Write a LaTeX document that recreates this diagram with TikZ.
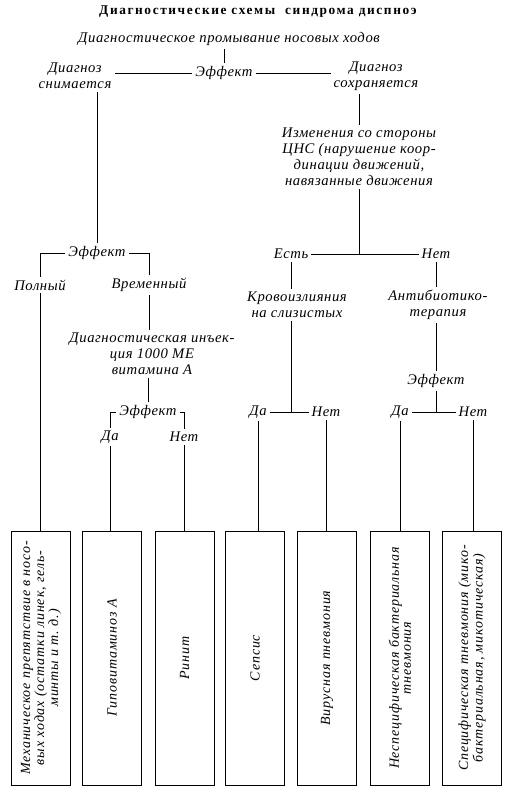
\documentclass[tikz,border=0pt]{standalone}
\usepackage{fontspec}
\usepackage{graphicx}
\setmainfont{Liberation Serif}
\newfontfamily\labelfont[LetterSpace=4]{Liberation Serif}
\newfontfamily\boxfont[LetterSpace=6]{Liberation Serif}
\newfontfamily\titlefont[LetterSpace=12]{Liberation Serif}
\usetikzlibrary{positioning}
\newcommand{\vlabel}[1]{\rotatebox{90}{\parbox{182pt}{\centering #1}}}

\begin{document}
\begin{tikzpicture}[
  x=0.75pt, y=-0.75pt,
  line width=0.7pt,
  lbl/.style={font=\labelfont\itshape\fontsize{11}{12}\selectfont, align=center, inner sep=2pt},
  outcome/.style={draw, minimum width=44.25pt, minimum height=190.5pt, inner sep=0pt,
    font=\boxfont\itshape\fontsize{10.5}{9}\selectfont}
]
\useasboundingbox (0,0) rectangle (519,794);

% top of the scheme
\node[font=\titlefont\bfseries\fontsize{10}{12}\selectfont] (title) at (258,12) {Диагностические схемы \ синдрома диспноэ};
\node[lbl] (wash) at (229,39) {Диагностическое промывание носовых ходов};
\node[lbl] (eff1) at (224,73) {Эффект};
\node[lbl] (removed) at (75,76) {Диагноз\\снимается};
\node[lbl] (kept) at (376,76) {Диагноз\\сохраняется};
\node[lbl] (cns) at (359,157) {Изменения со стороны\\ЦНС (нарушение коор-\\динации движений,\\навязанные движения};

% left branch
\node[lbl] (effL) at (97,253) {Эффект};
\node[lbl] (full) at (40,285) {Полный};
\node[lbl] (temp) at (149,285) {Временный};
\node[lbl] (inj) at (152,354) {Диагностическая инъек-\\ция 1000 МЕ\\витамина А};
\node[lbl] (eff2) at (148,412) {Эффект};
\node[lbl] (yes4) at (110,437) {Да};
\node[lbl] (no4) at (184,437) {Нет};

% right branch
\node[lbl] (yes1) at (291,254) {Есть};
\node[lbl] (no1) at (436,254) {Нет};
\node[lbl] (bleed) at (297,305) {Кровоизлияния\\на слизистых};
\node[lbl] (abx) at (438,305) {Антибиотико-\\терапия};
\node[lbl] (yes2) at (258,412) {Да};
\node[lbl] (no2) at (326,412) {Нет};
\node[lbl] (eff3) at (436,381) {Эффект};
\node[lbl] (yes3) at (400,412) {Да};
\node[lbl] (no3) at (473,412) {Нет};

% outcomes
\node[outcome] (mech) at (41,658) {\vlabel{Механическое препятствие в носо-\\вых ходах (остатки линек, гель-\\минты и т.~д.)}};
\node[outcome] (hypo) at (112,658) {\vlabel{Гиповитаминоз А}};
\node[outcome] (rhin) at (184.5,658) {\vlabel{Ринит}};
\node[outcome] (seps) at (255,658) {\vlabel{Сепсис}};
\node[outcome] (vir) at (327,658) {\vlabel{Вирусная пневмония}};
\node[outcome] (nonsp) at (400,658) {\vlabel{Неспецифическая бактериальная\\тневмония}};
\node[outcome] (spec) at (472,658) {\vlabel{Специфическая тневмония (мико-\\бактериальная, микотическая)}};

\draw (eff1.north) -- (eff1.north |- wash.south);
\draw (eff1.west) -- (eff1.west -| removed.east);
\draw (eff1.east) -- (eff1.east -| kept.west);
\draw (effL.north) -- (effL.north |- removed.south);
\draw (cns.north) -- (cns.north |- kept.south);
\draw (cns.south) -- (cns.south |- yes1.east);
\draw (yes1.east) -- (no1.west);

\draw (effL.west) -| (full.north);
\draw (effL.east) -| (temp.north);
\draw (full.south) -- (full.south |- mech.north);
\draw (temp.south) -- (temp.south |- inj.north);
\draw (eff2.north) -- (eff2.north |- inj.south);
\draw (eff2.west) -| (yes4.north);
\draw (eff2.east) -| (no4.north);
\draw (yes4.south) -- (yes4.south |- hypo.north);
\draw (no4.south) -- (no4.south |- rhin.north);

\draw (yes1.south) -- (yes1.south |- bleed.north);
\draw (no1.south) -- (no1.south |- abx.north);
\draw (yes1.south |- bleed.south) -- (yes1.south |- yes2.east);
\draw (yes2.east) -- (no2.west);
\draw (eff3.north) -- (eff3.north |- abx.south);
\draw (eff3.south) -- (eff3.south |- yes3.east);
\draw (yes3.east) -- (no3.west);
\draw (yes2.south) -- (yes2.south |- seps.north);
\draw (no2.south) -- (no2.south |- vir.north);
\draw (yes3.south) -- (yes3.south |- nonsp.north);
\draw (no3.south) -- (no3.south |- spec.north);
\end{tikzpicture}
\end{document}
